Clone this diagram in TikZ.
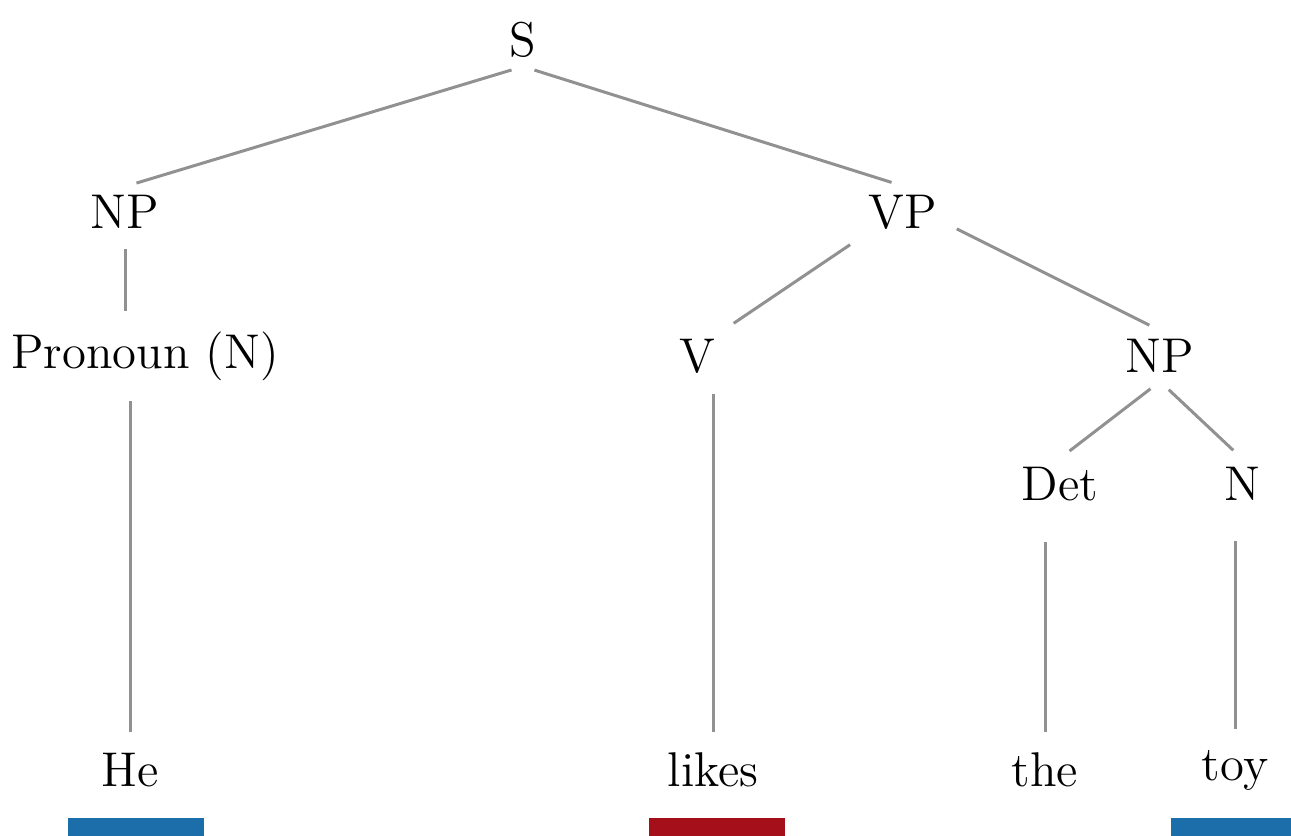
\documentclass[tikz,border=0pt]{standalone}
\usepackage{tikz}
\usetikzlibrary{positioning}
\definecolor{edgegray}{RGB}{145,145,145}
\definecolor{barblue}{RGB}{28,110,170}
\definecolor{barred}{RGB}{165,15,25}
\tikzstyle{cat} = [inner sep=2pt, font=\fontsize{12.2}{14}\selectfont]
\tikzstyle{word} = [inner sep=2pt, font=\fontsize{12.2}{14}\selectfont]
\tikzstyle{branch} = [draw=edgegray, line width=0.75pt, shorten >=3pt, shorten <=3pt]
\tikzstyle{bar} = [rectangle, inner sep=0pt, minimum height=4.5pt, minimum width=34pt]

\begin{document}
\begin{tikzpicture}[x=0.25pt, y=-0.25pt]
  \useasboundingbox (0,0) rectangle (1291,835);
  % categories
  \node (s) [cat] at (523,40) {S};
  \node (np1) [cat] at (125,212) {NP};
  \node (vp) [cat] at (903,212) {VP};
  \node (pron) [cat] at (145,356) {Pronoun (N)};
  \node (v) [cat] at (697,356) {V};
  \node (np2) [cat] at (1160,356) {NP};
  \node (det) [cat] at (1060,484) {Det};
  \node (n) [cat] at (1242,484) {N};
  % words
  \node (he) [word] at (130,770) {He};
  \node (likes) [word] at (713,770) {likes};
  \node (the) [word] at (1045,770) {the};
  \node (toy) [word] at (1235,770) {toy};
  % bars
  \node (barhe) [bar, fill=barblue] at (136,827) {};
  \node (barlikes) [bar, fill=barred] at (717,827) {};
  \node (bartoy) [bar, fill=barblue] at (1239,827) {};
  % branches
  \draw [branch] (s.south) -- (np1.north);
  \draw [branch] (s.south) -- (vp.north);
  \draw [branch] (np1.south) -- (np1.south |- pron.north);
  \draw [branch] (vp.south west) -- (v.north east);
  \draw [branch] (vp.-15) -- (np2.north);
  \draw [branch] (np2.south) -- (det.north);
  \draw [branch] (np2.south) -- (n.north);
  \draw [branch] (he.north) -- (he.north |- pron.south);
  \draw [branch] (likes.north) -- (likes.north |- v.south);
  \draw [branch, shorten >=8pt] (the.north) -- (the.north |- det.south);
  \draw [branch, shorten >=8pt] (toy.north) -- (toy.north |- n.south);
\end{tikzpicture}
\end{document}
